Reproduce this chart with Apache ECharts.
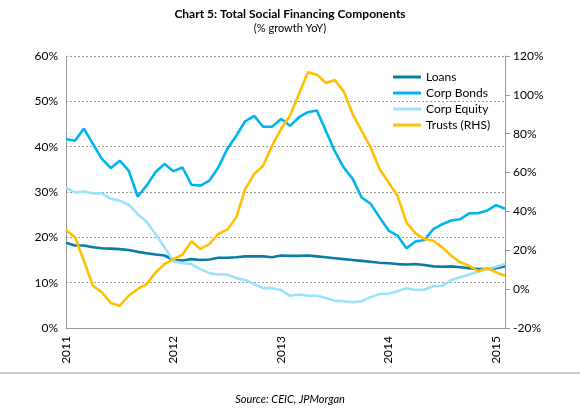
<!DOCTYPE html>
<html>
<head>
<meta charset="utf-8">
<script src="https://cdn.jsdelivr.net/npm/echarts@6/dist/echarts.min.js"></script>
<style>
  html, body { margin: 0; padding: 0; background: #fff; }
  #chart { width: 580px; height: 414px; }
</style>
</head>
<body>
<div id="chart"></div>
<script>
// monthly, Jan 2011 .. Feb 2015
var months = [];
for (var y = 2011; y <= 2015; y++) {
    for (var m = 1; m <= 12; m++) {
        if (y === 2015 && m > 2) break;
        months.push(y + '-' + m);
    }
}

var loans = [18.8, 18.2, 18.2, 17.8, 17.6, 17.5, 17.4, 17.2, 16.8, 16.5, 16.2, 16.0,
    15.0, 14.9, 15.2, 15.0, 15.1, 15.5, 15.5, 15.6, 15.8, 15.8, 15.8, 15.6,
    16.0, 15.9, 15.9, 16.0, 15.8, 15.6, 15.4, 15.2, 15.0, 14.8, 14.6, 14.4,
    14.3, 14.1, 14.0, 14.1, 13.9, 13.6, 13.5, 13.6, 13.4, 13.2, 13.0, 13.0,
    13.2, 13.6];
var corpBonds = [41.7, 41.3, 44.0, 40.6, 37.3, 35.3, 36.9, 34.7, 29.0, 31.4, 34.4, 36.2,
    34.6, 35.4, 31.6, 31.4, 32.5, 35.4, 39.5, 42.4, 45.6, 46.8, 44.4, 44.4,
    46.1, 44.6, 46.5, 47.6, 48.0, 43.5, 39.0, 35.4, 32.9, 28.8, 27.4, 24.4,
    21.5, 20.4, 17.6, 19.1, 19.4, 21.8, 22.9, 23.7, 24.0, 25.3, 25.3, 25.9,
    27.1, 26.3];
var corpEquity = [31.0, 29.9, 30.1, 29.7, 29.7, 28.5, 28.1, 27.2, 25.1, 23.5, 20.7, 17.8,
    14.7, 14.3, 14.1, 13.0, 12.1, 11.8, 11.8, 11.0, 10.6, 9.7, 8.8, 8.8,
    8.4, 7.1, 7.4, 7.1, 7.1, 6.6, 6.0, 5.9, 5.7, 5.9, 6.8, 7.5,
    7.6, 8.1, 8.8, 8.4, 8.5, 9.2, 9.3, 10.6, 11.2, 11.8, 12.4, 13.0,
    13.5, 14.1];
var trusts = [30.4, 26.7, 14.6, 1.8, -1.6, -7.1, -8.5, -3.4, 0.1, 2.6, 8.6, 12.9,
    15.5, 17.7, 24.6, 20.7, 23.2, 28.4, 30.6, 36.9, 51.5, 59.2, 63.5, 73.8,
    82.4, 89.3, 100.4, 111.6, 110.4, 106.1, 107.6, 101.8, 90.1, 81.5, 73.0, 61.8,
    55.0, 48.1, 34.4, 28.7, 25.8, 24.9, 21.5, 17.2, 13.8, 12.1, 9.2, 10.9,
    8.7, 6.9];

var font = 'Lato, "Open Sans", sans-serif';
var myChart = echarts.init(document.getElementById('chart'));

function line(name, data, color, axis) {
    return {
        name: name, type: 'line', data: data, yAxisIndex: axis,
        symbol: 'none', smooth: false,
        lineStyle: { color: color, width: 2.6 },
        itemStyle: { color: color }
    };
}

option = {
    animation: false,
    textStyle: { fontFamily: font },
    title: [
        {
            text: 'Chart 5: Total Social Financing Components',
            subtext: '(% growth YoY)',
            left: 'center', top: 3, itemGap: 3,
            textStyle: { fontSize: 12, fontWeight: 'bold', color: '#000', fontFamily: font },
            subtextStyle: { fontSize: 11, color: '#000', fontFamily: font }
        },
        {
            text: 'Source: CEIC, JPMorgan',
            left: 'center', top: 389,
            textStyle: { fontSize: 11, fontStyle: 'italic', fontWeight: 'normal', color: '#000', fontFamily: font }
        }
    ],
    graphic: [{
        type: 'line', shape: { x1: 0, y1: 373, x2: 580, y2: 373 },
        style: { stroke: '#999', lineWidth: 1 }
    }],
    legend: {
        orient: 'vertical', left: 388, top: 66, itemGap: 4,
        itemWidth: 28, itemHeight: 3, icon: 'rect',
        textStyle: { fontSize: 12, color: '#000', fontFamily: font },
        data: ['Loans', 'Corp Bonds', 'Corp Equity', 'Trusts (RHS)']
    },
    grid: { left: 66, right: 75, top: 56, bottom: 86, containLabel: false },
    xAxis: {
        type: 'category', data: months, boundaryGap: false,
        axisLine: { lineStyle: { color: '#999' } },
        axisTick: { show: false },
        axisLabel: {
            rotate: 90, fontSize: 12, color: '#000', margin: 8,
            interval: function (i) { return i % 12 === 0; },
            formatter: function (v) { return v.split('-')[0]; }
        }
    },
    yAxis: [
        {
            type: 'value', min: 0, max: 60, interval: 10,
            axisLine: { show: true, lineStyle: { color: '#999' } },
            axisTick: { show: false },
            axisLabel: { formatter: '{value}%', fontSize: 12, color: '#000' },
            splitLine: { lineStyle: { color: '#999', type: [2, 2] } }
        },
        {
            type: 'value', min: -20, max: 120, interval: 20,
            axisLine: { show: true, lineStyle: { color: '#999' } },
            axisTick: { show: true, lineStyle: { color: '#999' } },
            axisLabel: { formatter: '{value}%', fontSize: 12, color: '#000' },
            splitLine: { show: false }
        }
    ],
    series: [
        line('Loans', loans, '#0B7BA6', 0),
        line('Corp Bonds', corpBonds, '#00B4EC', 0),
        line('Corp Equity', corpEquity, '#9CE3FA', 0),
        line('Trusts (RHS)', trusts, '#FFC000', 1)
    ]
};

myChart.setOption(option);
</script>
</body>
</html>
